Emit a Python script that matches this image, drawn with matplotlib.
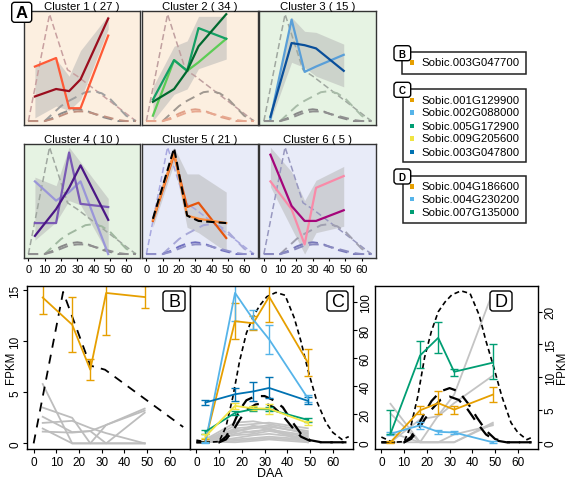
import matplotlib
matplotlib.use("Agg")
import matplotlib.pyplot as plt
from matplotlib.patches import FancyBboxPatch, Rectangle

plt.rcParams['font.family'] = ['Liberation Sans', 'DejaVu Sans']

W, H = 567, 481
daa = [4, 17, 25, 32, 49]

# ---- panel A: scaled cluster profiles ----
cluster_titles = ['Cluster 1 ( 27 )', 'Cluster 2 ( 34 )', 'Cluster 3 ( 15 )',
                  'Cluster 4 ( 10 )', 'Cluster 5 ( 21 )', 'Cluster 6 ( 5 )']
cluster_bg = ['#fcefe0', '#fcefe0', '#e6f3e3', '#e6f3e3', '#e8ebf8', '#e8ebf8']

clu1_genes = [[0.51, 0.59, 0.12, 0.12, 0.80], [0.23, 0.30, 0.28, 0.39, 0.96]]
clu1_colors = ['#ff5a36', '#9b0e1e']
clu1_lo = [0.03, 0.14, 0.10, 0.20, 0.86]
clu1_hi = [0.52, 0.58, 0.42, 0.66, 0.99]

clu2_genes = [[0.05, 0.57, 0.47, 0.55, 0.77], [0.20, 0.57, 0.47, 0.87, 0.77],
              [0.18, 0.30, 0.47, 0.70, 1.00]]
clu2_colors = ['#5ccc55', '#14a064', '#00692e']
clu2_lo = [0.00, 0.25, 0.30, 0.49, 0.58]
clu2_hi = [0.32, 0.70, 0.75, 0.98, 0.98]

clu3_genes = [[0.02, 0.95, 0.46, 0.51, 0.62], [0.04, 0.73, 0.71, 0.68, 0.47]]
clu3_colors = ['#5a9fd8', '#0a4f9a']
clu3_lo = [0.00, 0.55, 0.50, 0.42, 0.32]
clu3_hi = [0.08, 0.97, 0.84, 0.83, 0.72]

clu4_genes = [[0.68, 0.50, 0.58, 0.68, 0.00], [0.29, 0.29, 0.95, 0.47, 0.44],
              [0.17, 0.42, 0.62, 0.83, 0.32]]
clu4_colors = ['#9a96d8', '#7a5ab5', '#4b1785']
clu4_lo = [0.13, 0.30, 0.50, 0.46, 0.00]
clu4_hi = [0.72, 0.64, 1.00, 0.86, 0.52]

clu5_genes = [[0.31, 0.93, 0.44, 0.48, 0.15], [0.32, 0.95, 0.36, 0.33, 0.29],
              [0.33, 0.99, 0.36, 0.31, 0.29]]
clu5_colors = ['#e6550d', '#fd8d3c', 'black']
clu5_lo = [0.25, 0.85, 0.25, 0.20, 0.02]
clu5_hi = [0.40, 1.00, 0.75, 0.75, 0.58]

clu6_genes = [[0.68, 0.42, 0.09, 0.62, 0.73], [0.93, 0.45, 0.31, 0.31, 0.41]]
clu6_colors = ['#f98aa8', '#a5057a']
clu6_lo = [0.63, 0.24, 0.00, 0.20, 0.26]
clu6_hi = [1.00, 0.77, 0.50, 0.69, 0.82]

# reference development curves shown dashed in A (scaled)
ref_sharp_x = [0, 13, 24, 30, 66]
ref_sharp = [0, 1.0, 0.48, 0.42, 0.0]
ref_x = [0, 10, 15, 20, 25, 30, 35, 40, 45, 50, 55, 60, 66]
ref_broad = [0, 0, 0.07, 0.14, 0.19, 0.23, 0.27, 0.28, 0.26, 0.21, 0.13, 0.05, 0]
ref_small1 = [0, 0, 0.03, 0.07, 0.10, 0.11, 0.10, 0.07, 0.04, 0.02, 0.0, 0, 0]
ref_small2 = [0, 0, 0.02, 0.05, 0.08, 0.09, 0.09, 0.07, 0.05, 0.03, 0.01, 0, 0]
ref_colors = [['#c8a0a0', '#a0a0a0', '#8c8c8c', '#c09080'],
              ['#c0a0a0', '#a09890', '#e0a088', '#e8a890'],
              ['#a0a8a0', '#a8bca8', '#888888', '#909090'],
              ['#a0a8a0', '#a0b8a0', '#888888', '#909090'],
              ['#a8a8e0', '#a8a8d8', '#7070c0', '#9090c8'],
              ['#9898c0', '#a0a0b0', '#7878b8', '#8a8ac0']]

# ---- panel B ----
b_mean = [14.25, 11.6, 7.2, 14.7, 14.3]
b_err = [1.6, 2.7, 1.0, 4.1, 1.05]
b_gray = [[5.8, 0.0, 0.0, 0.0, 0.0],
          [3.5, 2.5, 0.0, 1.8, 3.4],
          [2.6, 1.1, 1.2, 1.8, 3.2],
          [2.0, 2.2, 1.5, 1.0, 0.0],
          [1.45, 0.0, 0.0, 0.0, 3.0],
          [1.15, 1.05, 1.2, 0.0, 0.0]]
b_dash_x = [0, 13, 25, 31.5, 66]
b_dash = [0, 14.8, 7.6, 7.2, 1.6]

# ---- panel C ----
c_means = [[1.2, 86.5, 85.0, 104.0, 57.0],
           [0.0, 106.7, 87.7, 73.5, 31.5],
           [7.6, 21.0, 23.7, 23.5, 16.0],
           [4.2, 26.0, 24.2, 24.0, 13.8],
           [28.4, 34.3, 36.3, 38.8, 29.6]]
c_errs = [[0.8, 13.0, 5.0, 18.0, 9.5],
          [0.5, 20.0, 7.0, 10.5, 2.5],
          [1.5, 1.5, 1.5, 1.5, 1.5],
          [1.5, 2.0, 1.5, 3.5, 1.5],
          [1.5, 4.5, 6.5, 7.5, 2.5]]
c_gray = [[2, 14, 15, 13, 8], [1, 12, 13, 14, 10], [0.5, 10, 11, 12, 6],
          [1, 8, 10, 11, 7], [0, 6, 8, 9, 5], [2, 5, 6, 8, 4], [0, 3, 5, 6, 3],
          [1, 2, 3, 4, 2], [0, 1, 2, 3, 1], [0, 9, 7, 10, 1],
          [0.5, 0, 1, 2, 0], [3, 7, 12, 9, 0]]
bell_x = [0, 5, 10, 13, 16, 19, 22, 25, 28, 31, 35, 39, 43, 46, 49, 53, 57, 60, 64, 67]
c_bell = [1.5, 0, 0.5, 11, 32, 58, 78, 90, 98, 104, 107, 105, 89, 72, 52, 29, 14, 7, 2, 4]
hump_x = [0, 10, 13, 16, 19, 22, 26, 30, 34, 38, 42, 46, 50, 55, 60, 66]
c_hump1 = [0, 0, 4, 12, 23, 30, 33, 33, 30, 25, 15, 6, 1.5, 0, 0, 0]
c_hump2 = [0, 0, 2, 8, 16, 23, 27, 28, 25, 19, 11, 4, 1, 0, 0, 0]

# ---- panel D ----
d_means = [[0.0, 4.9, 6.0, 5.0, 7.3],
           [1.3, 2.6, 1.6, 1.5, 0.0],
           [1.3, 13.3, 16.0, 10.8, 12.2]]
d_err_lo = [[0.15, 0.6, 1.7, 0.7, 1.1],
            [0.2, 0.5, 0.3, 0.3, 0.15],
            [0.1, 1.9, 2.3, 0.7, 2.5]]
d_err_hi = [[0.15, 0.6, 1.8, 0.5, 1.2],
            [0.2, 0.5, 0.3, 0.3, 0.15],
            [3.6, 2.2, 2.5, 0.5, 2.9]]
d_gray = [[5.9, 0.0, 4.1, 7.3, 23.0],
          [4.4, 0.0, 0.0, 0.0, 2.8],
          [0.0, 3.5, 4.0, 6.0, 10.2],
          [0.0, 0.0, 0.0, 0.0, 3.0],
          [1.5, 0.0, 0.0, 1.2, 2.6]]
d_bell = [0.8, 0, 0.1, 2.5, 7, 13, 17, 20, 21.5, 22.6, 23.2, 22.8, 19.5, 15.5, 12, 7, 3, 1.5, 0.4, 0.9]
d_hump1 = [0, 0, 0.8, 2.5, 4.5, 6.3, 7.8, 8.3, 7.8, 6.0, 3.8, 1.8, 0.5, 0, 0, 0]
d_hump2 = [0, 0, 0.5, 1.8, 3.5, 5.0, 6.5, 7.0, 6.5, 5.0, 3.0, 1.2, 0.3, 0, 0, 0]

# ---- legends ----
leg_b_names = ['Sobic.003G047700']
leg_c_names = ['Sobic.001G129900', 'Sobic.002G088000', 'Sobic.005G172900',
               'Sobic.009G205600', 'Sobic.003G047800']
leg_d_names = ['Sobic.004G186600', 'Sobic.004G230200', 'Sobic.007G135000']
leg_b_colors = ['#E69F00']
leg_c_colors = ['#E69F00', '#56B4E9', '#009E73', '#F0E442', '#0072B2']
leg_d_colors = ['#E69F00', '#56B4E9', '#009E73']
c_colors = leg_c_colors
d_colors = leg_d_colors


fig = plt.figure(figsize=(W / 100, H / 100), dpi=100)


def px_axes(x0, y0, x1, y1):
    return fig.add_axes([x0 / W, 1 - y1 / H, (x1 - x0) / W, (y1 - y0) / H])


# panel A grid
a_genes = [clu1_genes, clu2_genes, clu3_genes, clu4_genes, clu5_genes, clu6_genes]
a_colors = [clu1_colors, clu2_colors, clu3_colors, clu4_colors, clu5_colors, clu6_colors]
a_lo = [clu1_lo, clu2_lo, clu3_lo, clu4_lo, clu5_lo, clu6_lo]
a_hi = [clu1_hi, clu2_hi, clu3_hi, clu4_hi, clu5_hi, clu6_hi]
col_left = [23.5, 141.5, 259]
row_top = [12, 145]
for i in range(6):
    r, c = divmod(i, 3)
    ax = px_axes(col_left[c], row_top[r], col_left[c] + 116.5, row_top[r] + 114)
    ax.set_facecolor(cluster_bg[i])
    ax.set_xlim(-3, 68.5)
    ax.set_ylim(-0.037, 1.03)
    rc = ref_colors[i]
    ax.plot(ref_sharp_x, ref_sharp, color=rc[0], lw=1.1, dashes=(4, 2))
    ax.plot(ref_x, ref_broad, color=rc[1], lw=1.4, dashes=(5, 3))
    ax.plot(ref_x, ref_small1, color=rc[2], lw=1.4, dashes=(5, 3))
    ax.plot(ref_x, ref_small2, color=rc[3], lw=1.4, dashes=(5, 3))
    ax.fill_between(daa, a_lo[i], a_hi[i], color='#b4b4b4', alpha=0.5, lw=0)
    for vals, col in zip(a_genes[i], a_colors[i]):
        if col == 'black':
            ax.plot(daa, vals, color=col, lw=1.5, dashes=(4, 2))
        else:
            ax.plot(daa, vals, color=col, lw=1.6)
    ax.set_title(cluster_titles[i], fontsize=8.2, pad=1.5)
    ax.set_yticks([])
    for s in ax.spines.values():
        s.set_color('#333333')
        s.set_linewidth(1)
    if r == 1:
        ax.set_xticks(range(0, 70, 10))
        ax.tick_params(axis='x', length=2.5, labelsize=8, pad=1.5)
    else:
        ax.set_xticks([])


def style_bottom(ax, side):
    ax.set_xlim(-2.8, 69)
    ax.set_xticks(range(0, 70, 10))
    ax.tick_params(axis='x', length=3, labelsize=8.5, pad=2)
    ax.tick_params(axis='y', length=3, labelsize=8.5, pad=1.5)
    if side == 'right':
        ax.yaxis.tick_right()
    for t in ax.get_yticklabels():
        t.set_rotation(90)
        t.set_va('center')
        t.set_ha('right' if side == 'left' else 'left')
    for s in ax.spines.values():
        s.set_linewidth(1)


# panel B
axb = px_axes(27.3, 287.3, 190, 450)
axb.set_ylim(-0.55, 15.35)
axb.set_yticks([0, 5, 10, 15])
for g in b_gray:
    axb.plot(daa, g, color='#bdbdbd', lw=1.3)
axb.plot(b_dash_x, b_dash, color='black', lw=1.3, dashes=(5, 4))
axb.errorbar(daa, b_mean, yerr=b_err, color=leg_b_colors[0], lw=1.3,
             elinewidth=1, capsize=3, capthick=1)
style_bottom(axb, 'left')

# panel C
axc = px_axes(190, 287.3, 353.3, 450)
axc.set_ylim(-4.8, 111.4)
axc.set_yticks(range(0, 101, 20))
for g in c_gray:
    axc.plot(daa, g, color='#c4c4c4', lw=1.3)
axc.plot(bell_x, c_bell, color='black', lw=1.2, dashes=(3, 2))
axc.plot(hump_x, c_hump1, color='black', lw=1.6, dashes=(6, 4))
axc.plot(hump_x, c_hump2, color='black', lw=1.6, dashes=(6, 4))
for m, e, col in zip(c_means, c_errs, c_colors):
    axc.errorbar(daa, m, yerr=e, color=col, lw=1.3, elinewidth=1,
                 capsize=3, capthick=1)
style_bottom(axc, 'right')

# panel D
axd = px_axes(375, 287.3, 538.3, 450)
axd.set_ylim(-1.03, 23.9)
axd.set_yticks(range(0, 21, 5))
for g in d_gray:
    axd.plot(daa, g, color='#c4c4c4', lw=1.3)
axd.plot(bell_x, d_bell, color='black', lw=1.2, dashes=(3, 2))
axd.plot(hump_x, d_hump1, color='black', lw=1.6, dashes=(6, 4))
axd.plot(hump_x, d_hump2, color='black', lw=1.6, dashes=(6, 4))
for m, lo, hi, col in zip(d_means, d_err_lo, d_err_hi, d_colors):
    axd.errorbar(daa, m, yerr=[lo, hi], color=col, lw=1.3, elinewidth=1,
                 capsize=3, capthick=1)
style_bottom(axd, 'right')

# overlay for labels and legends, in pixel coordinates
ov = fig.add_axes([0, 0, 1, 1], zorder=10)
ov.set_xlim(0, W)
ov.set_ylim(H, 0)
ov.axis('off')


def tag(x0, y0, x1, y1, text, fs, weight='normal'):
    ov.add_patch(FancyBboxPatch((x0, y0), x1 - x0, y1 - y0,
                                boxstyle='round,pad=0,rounding_size=3',
                                fc='white', ec='black', lw=1))
    ov.text((x0 + x1) / 2, (y0 + y1) / 2 + 0.5, text, ha='center', va='center',
            fontsize=fs, weight=weight)


tag(11.7, 3.3, 31.7, 23.3, 'A', 12, 'bold')
tag(163, 292, 185, 312, 'B', 13)
tag(327, 292, 348, 312, 'C', 13)
tag(490, 292, 512, 312, 'D', 13)


def legend_box(x0, y0, x1, y1, letter, ly, names, colors, ys):
    ov.add_patch(Rectangle((x0, y0), x1 - x0, y1 - y0, fc='white', ec='#222222', lw=1.1))
    tag(394, ly, 410.7, ly + 15, letter, 7, 'bold')
    for name, col, y in zip(names, colors, ys):
        ov.add_patch(Rectangle((409.5, y - 2.2), 4.4, 4.4, fc=col, ec='none'))
        ov.text(421.7, y, name, ha='left', va='center', fontsize=8.2)


legend_box(401.7, 53.3, 525.7, 75, 'B', 46.7, leg_b_names, leg_b_colors, [63.5])
legend_box(402.7, 90, 525.7, 163.3, 'C', 83.3, leg_c_names, leg_c_colors,
           [100.7, 113.3, 126.7, 139.3, 152.7])
legend_box(402.7, 176.7, 525.7, 224, 'D', 170, leg_d_names, leg_d_colors,
           [187.3, 200, 212.7])

ov.text(270, 474, 'DAA', ha='center', va='center', fontsize=9)
ov.text(11, 368, 'FPKM', ha='center', va='center', fontsize=8.3, rotation=90)
ov.text(562.5, 368, 'FPKM', ha='center', va='center', fontsize=8.3, rotation=90)

fig.savefig('out.png', dpi=100)
plt.close()
